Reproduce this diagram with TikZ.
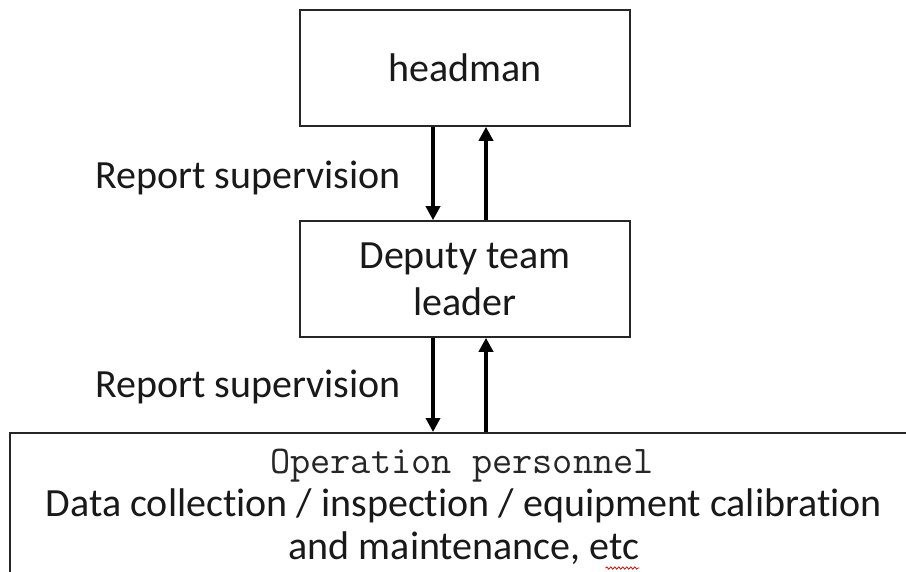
\documentclass[tikz,border=0pt]{standalone}
\usepackage{fontspec}
\setmainfont{Carlito}[Ligatures=NoCommon]
\usetikzlibrary{arrows.meta,decorations.pathmorphing}
\begin{document}
\begin{tikzpicture}[x=1pt,y=-1pt,
  box/.style={draw=black!85,line width=1.6pt,inner sep=0pt,fill=white},
  lbl/.style={font=\fontsize{40}{47}\selectfont,text=black!90,inner sep=0pt},
  monolbl/.style={font=\ttfamily\fontsize{39.2}{47}\selectfont,text=black!85,inner sep=0pt},
  flow/.style={line width=3.6pt,black,-{Triangle[length=14pt,width=14pt]}}]
\clip (0,0) rectangle (906,571);
\fill[white] (0,0) rectangle (906,571);
% boxes
\node[box,lbl,minimum width=330pt,minimum height=116pt] (hd) at (465,68) {headman};
\node[box,lbl,align=center,minimum width=330pt,minimum height=116pt] (dp) at (465,279) {Deputy team\\leader};
\node[box,anchor=north west,minimum width=1000pt,minimum height=300pt] (ops) at (9,432) {};
% texts of the bottom box
\node[monolbl,anchor=base] (opsA) at (462,473) {Operation personnel};
\node[lbl,anchor=base] (opsB) at (464,516) {Data collection / inspection / equipment calibration};
\node[lbl,anchor=base] (opsC) at (464,559) {and maintenance, etc};
% side labels
\node[lbl,anchor=base west] (rep1) at (95,188) {Report supervision};
\node[lbl,anchor=base west] (rep2) at (95,397) {Report supervision};
% arrow columns
\coordinate (dnx) at (433,0);
\coordinate (upx) at (486,0);
\draw[flow] (hd.south -| dnx) -- (dp.north -| dnx);
\draw[flow] (dp.north -| upx) -- (hd.south -| upx);
\draw[flow] (dp.south -| dnx) -- (ops.north -| dnx);
\draw[flow] (ops.north -| upx) -- (dp.south -| upx);
% spell-check squiggle under "etc"
\coordinate (sqA) at (opsC.base east);
\draw[red!80!black,line width=0.7pt,decorate,decoration={snake,amplitude=1.2pt,segment length=4pt}]
  ([xshift=-34pt,yshift=-9pt]sqA) -- ([yshift=-9pt]sqA);
\end{tikzpicture}
\end{document}
